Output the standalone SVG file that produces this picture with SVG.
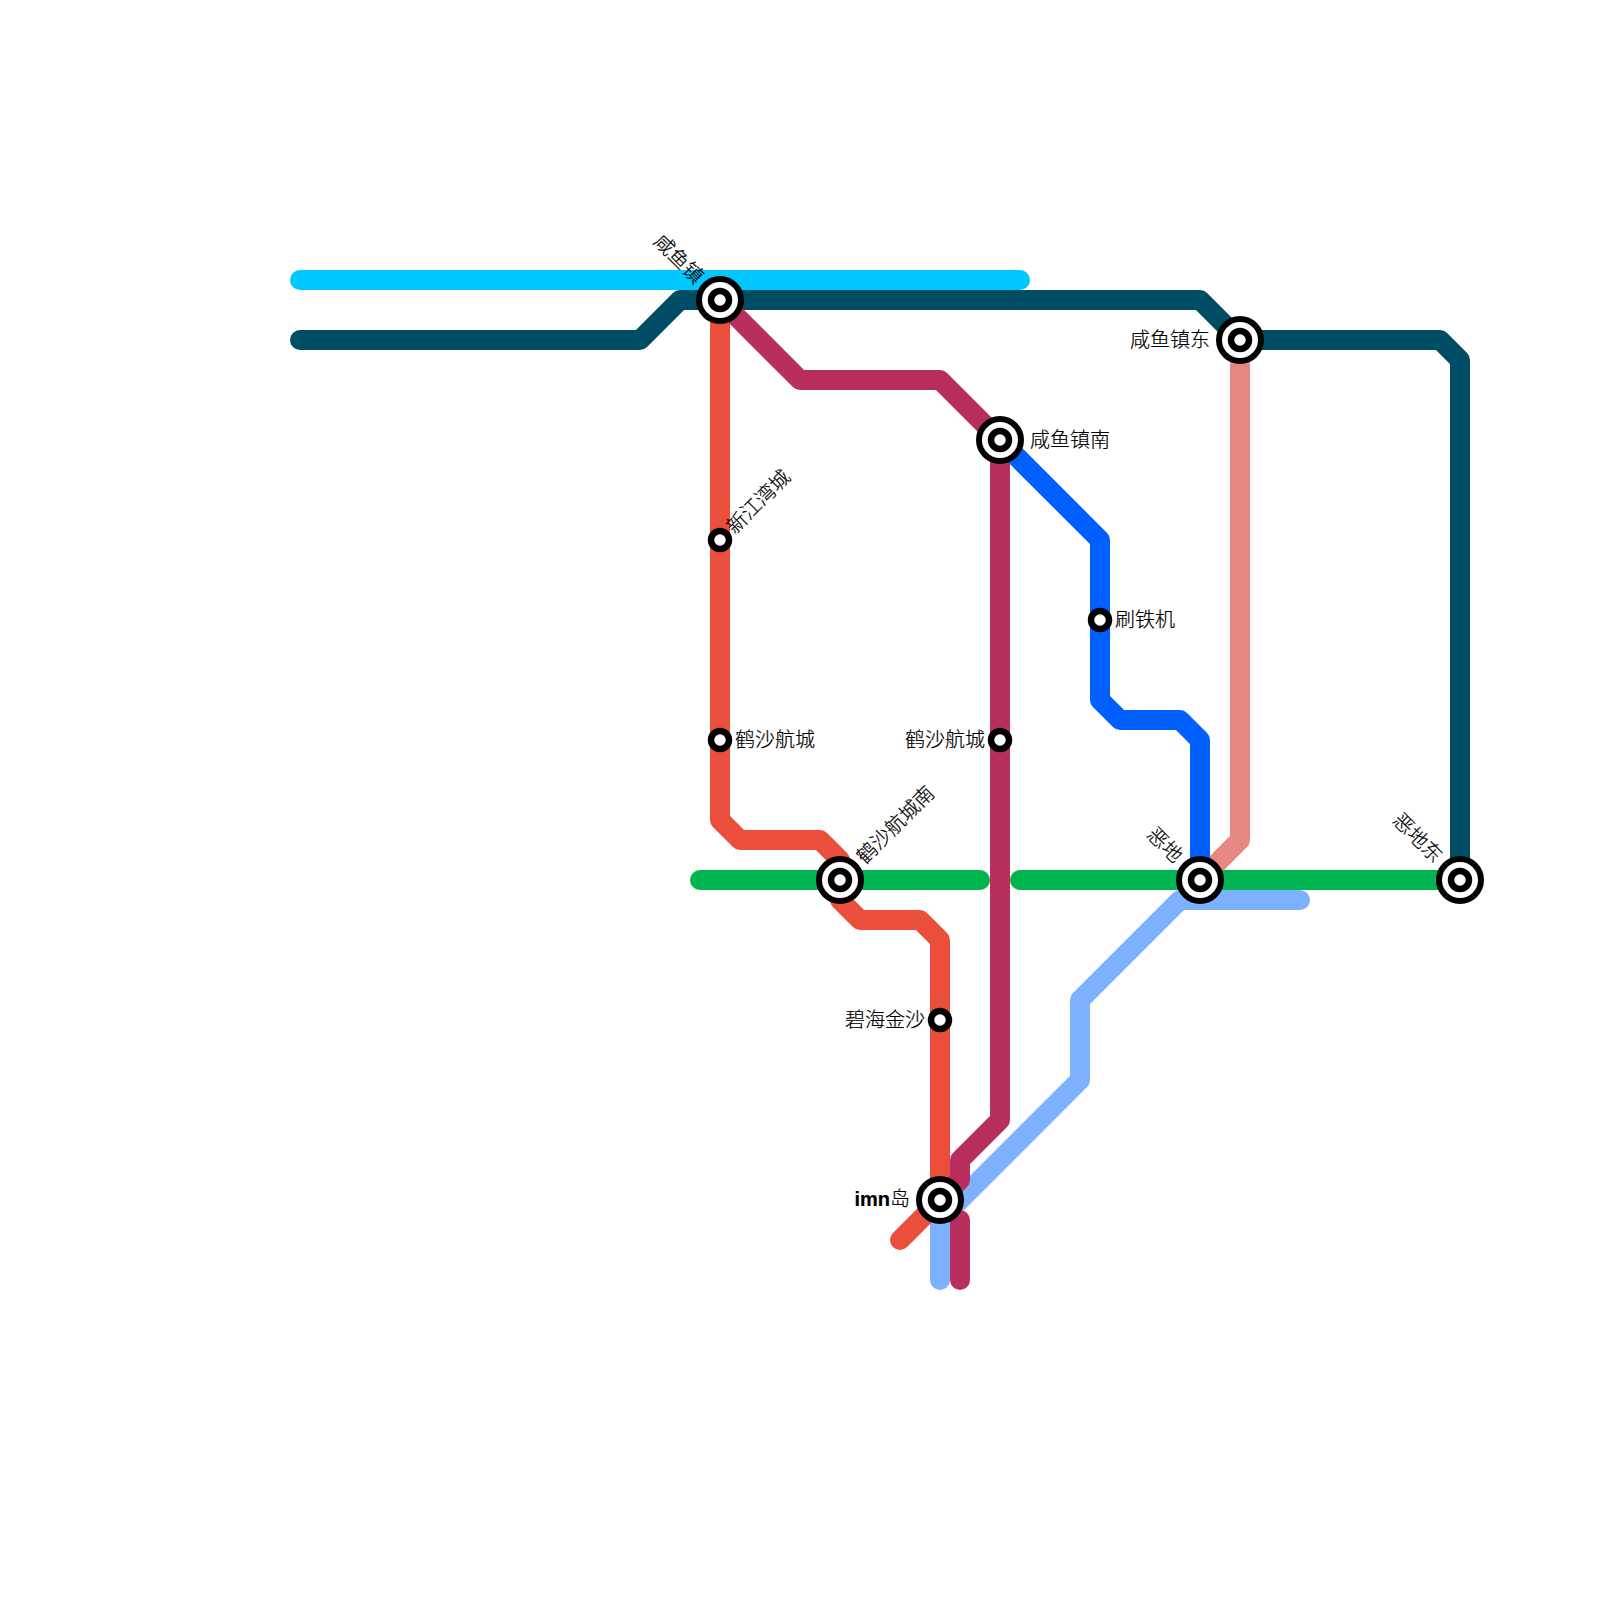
<svg xmlns="http://www.w3.org/2000/svg" width="1600" height="1600" viewBox="0 0 1600 1600">
<style>
.l{fill:none;stroke-width:20;stroke-linecap:round;stroke-linejoin:round}
.o{fill:#fff;stroke:#000;stroke-width:6}
.i{fill:#fff;stroke:#000;stroke-width:6.5}
text{font-family:"Liberation Sans","Noto Sans CJK SC",sans-serif;font-size:20px;fill:#000;stroke:#000;stroke-width:.2;dominant-baseline:central;font-weight:300}
.e{text-anchor:end}
</style>
<rect width="1600" height="1600" fill="#fff"/>
<g id="connectors">
<path class="l" stroke="#e78781" d="M1240 340V840L1200 880"/>
<path class="l" stroke="#004e66" d="M300 340H640L680 300H1200L1240 340H1440L1460 360V880"/>
<path class="l" stroke="#00c8ff" d="M300 280H1020"/>
<path class="l" stroke="#7db1ff" d="M940 1280V1220L1080 1080V1000L1180 900H1300"/>
<path class="l" stroke="#ec4e3c" d="M720 300V820L740 840H820L840 860V900L860 920H920L940 940V1200L900 1240"/>
<path class="l" stroke="#b82e5e" d="M720 300L800 380H940L1000 440V1120L960 1160V1180L940 1200"/>
<path class="l" stroke="#b82e5e" d="M960 1220V1280"/>
<path class="l" stroke="#0060ff" d="M1000 440L1100 540V700L1120 720H1180L1200 740V880"/>
<path class="l" stroke="#00b551" d="M700 880H980M1020 880H1460"/>
</g>
<g id="n1"><circle class="o" cx="720" cy="300" r="21"/><circle class="i" cx="720" cy="300" r="9"/><text class="e" transform="translate(700 280) rotate(45)">咸鱼镇</text></g>
<g id="n2"><circle class="o" cx="1240" cy="340" r="21"/><circle class="i" cx="1240" cy="340" r="9"/><text class="e" x="1210" y="340">咸鱼镇东</text></g>
<g id="n3"><circle class="o" cx="1000" cy="440" r="21"/><circle class="i" cx="1000" cy="440" r="9"/><text x="1030" y="440">咸鱼镇南</text></g>
<g id="n4"><circle class="i" cx="720" cy="540" r="9"/><text transform="translate(730 530) rotate(-45)">新江湾城</text></g>
<g id="n5"><circle class="i" cx="1100" cy="620" r="9"/><text x="1115" y="620">刷铁机</text></g>
<g id="n6"><circle class="i" cx="720" cy="740" r="9"/><text x="735" y="740">鹤沙航城</text></g>
<g id="n7"><circle class="i" cx="1000" cy="740" r="9"/><text class="e" x="985" y="740">鹤沙航城</text></g>
<g id="n8"><circle class="o" cx="840" cy="880" r="21"/><circle class="i" cx="840" cy="880" r="9"/><text transform="translate(860 860) rotate(-45)">鹤沙航城南</text></g>
<g id="n9"><circle class="o" cx="1200" cy="880" r="21"/><circle class="i" cx="1200" cy="880" r="9"/><text class="e" transform="translate(1179 859) rotate(45)">恶地</text></g>
<g id="n10"><circle class="o" cx="1460" cy="880" r="21"/><circle class="i" cx="1460" cy="880" r="9"/><text class="e" transform="translate(1439 859) rotate(45)">恶地东</text></g>
<g id="n11"><circle class="i" cx="940" cy="1020" r="9"/><text class="e" x="925" y="1020">碧海金沙</text></g>
<g id="n12"><circle class="o" cx="940" cy="1200" r="21"/><circle class="i" cx="940" cy="1200" r="9"/><text class="e" x="910" y="1199"><tspan font-weight="bold">imn</tspan>岛</text></g>
</svg>
